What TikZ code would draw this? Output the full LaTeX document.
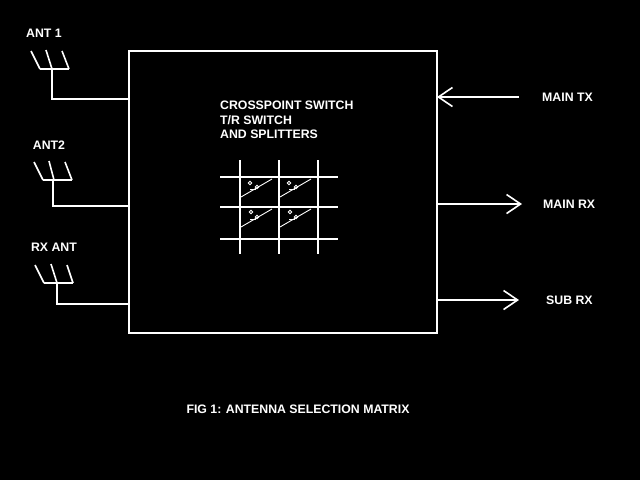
\documentclass[tikz,border=0pt]{standalone}
\usepackage{fontspec}
\setmainfont{Liberation Sans}
\usetikzlibrary{arrows.meta,positioning}
\tikzstyle{tag} = [text=white, inner sep=0pt, font=\bfseries\fontsize{12.3}{14}\selectfont]
\tikzstyle{box} = [rectangle, draw=white, line width=2pt, minimum width=308pt, minimum height=282pt, inner sep=0pt, outer sep=0pt]
\tikzstyle{wire} = [draw=white, line width=2pt]
\tikzstyle{element} = [draw=white, line width=1.6pt]
\tikzstyle{tedge} = [wire, -{Straight Barb[length=14pt, width=19pt, line width=1.6pt]}]
\tikzstyle{gridline} = [draw=white, line width=2pt]
\tikzstyle{contact} = [draw=white, line width=0.9pt]

\begin{document}
\begin{tikzpicture}[x=1pt, y=-1pt]

% background ============================
\fill[black] (0,0) rectangle (640,480);
\useasboundingbox (0,0) rectangle (640,480);

% switch box
\node[box] (switchbox) at (283,192) {};
\node[tag, anchor=west] (title1) at (220,105) {CROSSPOINT SWITCH};
\node[tag, anchor=west] (title2) at (220,120) {T/R SWITCH};
\node[tag, anchor=west] (title3) at (220,134) {AND SPLITTERS};

% antennas
\coordinate (ant1) at (52,69);
\coordinate (ant2) at (53,180);
\coordinate (ant3) at (57,283);
\coordinate (feed1) at (0,99);
\coordinate (feed2) at (0,206);
\coordinate (feed3) at (0,304);
\node[tag] (lab1) at (44,33) {ANT 1};
\node[tag] (lab2) at (49,145) {ANT2};
\node[tag] (lab3) at (54,247) {RX ANT};

\path[element] (ant1) ++(-12,0) -- ++(29,0);
\path[element] (ant1) ++(-12,0) -- ++(-9,-18);
\path[element] (ant1) -- ++(-6,-19);
\path[element] (ant1) ++(17,0) -- ++(-7,-18);
\path[element] (ant2) ++(-10,0) -- ++(29,0);
\path[element] (ant2) ++(-10,0) -- ++(-9,-18);
\path[element] (ant2) ++(1,0) -- ++(-5,-19);
\path[element] (ant2) ++(19,0) -- ++(-7,-18);
\path[element] (ant3) ++(-13,0) -- ++(29,0);
\path[element] (ant3) ++(-13,0) -- ++(-9,-18);
\path[element] (ant3) -- ++(-6,-19);
\path[element] (ant3) ++(16,0) -- ++(-6,-18);

%edges
\path[wire] (ant1) |- (switchbox.west |- feed1);
\path[wire] (ant2) |- (switchbox.west |- feed2);
\path[wire] (ant3) |- (switchbox.west |- feed3);

% outputs
\coordinate (maintx) at (519,97);
\coordinate (mainrx) at (522,204);
\coordinate (subrx) at (519,300);
\node[tag, right=23pt of maintx] (labtx) {MAIN TX};
\node[tag, right=21pt of mainrx] (labrx) {MAIN RX};
\node[tag, right=27pt of subrx] (labsub) {SUB RX};
\path[tedge] (maintx) -- (switchbox.east |- maintx);
\path[tedge] (switchbox.east |- mainrx) -- (mainrx);
\path[tedge] (switchbox.east |- subrx) -- (subrx);

% crosspoint grid
\path[gridline] (240,160) -- (240,254);
\path[gridline] (279,160) -- (279,254);
\path[gridline] (318,160) -- (318,254);
\path[gridline] (220,177) -- (338,177);
\path[gridline] (220,207) -- (338,207);
\path[gridline] (220,239) -- (338,239);

\begin{scope}[shift={(240,177)}]
\path[contact] (1,20) -- (32,2);
\draw[contact] (10,6) circle (1.7pt) (17,10) circle (1.7pt);
\path[contact] (10,12) -- (16,12);
\end{scope}
\begin{scope}[shift={(279,177)}]
\path[contact] (1,20) -- (32,2);
\draw[contact] (10,6) circle (1.7pt) (17,10) circle (1.7pt);
\path[contact] (10,12) -- (16,12);
\end{scope}
\begin{scope}[shift={(240,207)}]
\path[contact] (1,20) -- (32,2);
\draw[contact] (11,5) circle (1.7pt) (17,10) circle (1.7pt);
\path[contact] (10,12) -- (16,12);
\end{scope}
\begin{scope}[shift={(279,207)}]
\path[contact] (1,20) -- (32,2);
\draw[contact] (11,5) circle (1.7pt) (17,10) circle (1.7pt);
\path[contact] (10,12) -- (16,12);
\end{scope}

% caption
\node[tag] (caption) at (298,409) {FIG 1: ANTENNA SELECTION MATRIX};

\end{tikzpicture}
\end{document}
